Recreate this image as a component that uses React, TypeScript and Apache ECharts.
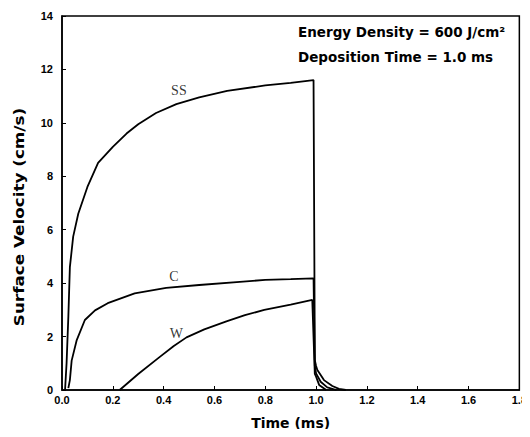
import React, { useEffect, useRef } from "react";
import * as echarts from "echarts";

// x-axis ticks (ms)
const xTicks = [0, 0.2, 0.4, 0.6, 0.8, 1.0, 1.2, 1.4, 1.6, 1.8];
const yTicks = [0, 2, 4, 6, 8, 10, 12, 14];

// SS curve
const ssTime = [0.012, 0.018, 0.025, 0.031, 0.044, 0.064, 0.1, 0.142, 0.2, 0.254, 0.3, 0.37, 0.45, 0.54, 0.65, 0.8, 0.9, 0.99, 0.995, 1.0, 1.005, 1.031, 1.064, 1.09, 1.117];
const ssVel = [0, 1.0, 2.75, 4.6, 5.74, 6.6, 7.6, 8.5, 9.1, 9.6, 9.95, 10.37, 10.7, 10.95, 11.2, 11.4, 11.5, 11.6, 1.12, 0.9, 0.75, 0.37, 0.15, 0.04, 0];

// C curve
const cTime = [0.025, 0.031, 0.038, 0.058, 0.09, 0.13, 0.18, 0.286, 0.41, 0.54, 0.7, 0.8, 0.9, 0.99, 0.995, 1.0, 1.018, 1.044, 1.08];
const cVel = [0.07, 0.37, 1.1, 1.87, 2.62, 2.98, 3.25, 3.62, 3.82, 3.93, 4.05, 4.12, 4.15, 4.18, 0.9, 0.62, 0.31, 0.1, 0];

// W curve
const wTime = [0.227, 0.3, 0.385, 0.44, 0.49, 0.56, 0.647, 0.72, 0.796, 0.9, 0.985, 0.995, 1.0, 1.012, 1.04];
const wVel = [0, 0.6, 1.24, 1.65, 1.97, 2.27, 2.57, 2.8, 3.0, 3.2, 3.37, 0.6, 0.5, 0.19, 0];

// curve labels
const labelNames = ["SS", "C", "W"];
const labelTime = [0.46, 0.44, 0.45];
const labelVel = [11.2, 4.25, 2.1];

const annotationLines = ["Energy Density = 600 J/cm²", "Deposition Time = 1.0 ms"];
const xTitle = "Time (ms)";
const yTitle = "Surface Velocity (cm/s)";

const zip = (t: number[], v: number[]) => t.map((x, i) => [x, v[i]]);

export default function App() {
  const ref = useRef<HTMLDivElement>(null);
  useEffect(() => {
    if (!ref.current) return;
    const chart = echarts.init(ref.current, null, { renderer: "svg" });
    const lineStyle = { color: "#000", width: 1.8 };
    const font = "'Liberation Sans', Arial, sans-serif";
    const wide = "'DejaVu Sans', sans-serif";
    chart.setOption({
      animation: false,
      backgroundColor: "#fff",
      grid: {
        left: 62,
        top: 16,
        width: 460,
        height: 374,
        show: true,
        borderColor: "#000",
        borderWidth: 1.5,
        backgroundColor: "transparent",
      },
      xAxis: {
        type: "value",
        min: 0,
        max: 1.8,
        interval: 0.2,
        name: xTitle,
        nameLocation: "middle",
        nameGap: 26,
        nameTextStyle: { fontFamily: wide, fontWeight: "bold", fontSize: 14, color: "#000" },
        axisLine: { lineStyle: { color: "#000", width: 1.5 } },
        axisTick: { inside: true, length: 4, lineStyle: { color: "#000" } },
        splitLine: { show: false },
        axisLabel: {
          margin: 4,
          fontFamily: font,
          fontWeight: "bold",
          fontSize: 11,
          color: "#000",
          formatter: (v: number) => (xTicks.includes(Math.round(v * 10) / 10) ? v.toFixed(1) : ""),
        },
      },
      yAxis: {
        type: "value",
        min: 0,
        max: 14,
        interval: 2,
        axisLine: { lineStyle: { color: "#000", width: 1.5 } },
        axisTick: { inside: true, length: 4, lineStyle: { color: "#000" } },
        splitLine: { show: false },
        axisLabel: {
          margin: 9,
          fontFamily: font,
          fontWeight: "bold",
          fontSize: 11,
          color: "#000",
          formatter: (v: number) => (yTicks.includes(v) ? String(v) : ""),
        },
      },
      series: [
        { name: "SS", type: "line", data: zip(ssTime, ssVel), showSymbol: false, lineStyle, itemStyle: { color: "#000" } },
        { name: "C", type: "line", data: zip(cTime, cVel), showSymbol: false, lineStyle, itemStyle: { color: "#000" } },
        { name: "W", type: "line", data: zip(wTime, wVel), showSymbol: false, lineStyle, itemStyle: { color: "#000" } },
        {
          name: "labels",
          type: "scatter",
          symbolSize: 0,
          data: labelNames.map((n, i) => ({ value: [labelTime[i], labelVel[i]], name: n })),
          label: {
            show: true,
            position: "inside",
            formatter: (p: any) => p.name,
            fontFamily: "'Liberation Serif', 'DejaVu Serif', serif",
            fontSize: 14,
            color: "#000",
          },
        },
      ],
      graphic: [
        ...annotationLines.map((t, i) => ({
          type: "text",
          left: 298,
          top: 25 + i * 25,
          style: {
            text: t,
            fontFamily: wide,
            fontWeight: "bold",
            fontSize: 13.5,
            fill: "#000",
          },
        })),
        {
          type: "text",
          x: 19,
          y: 217,
          rotation: Math.PI / 2,
          scaleX: 1.2,
          style: {
            text: yTitle,
            fontFamily: wide,
            fontWeight: "bold",
            fontSize: 14,
            fill: "#000",
            align: "center",
            verticalAlign: "middle",
          },
        },
      ],
    });
    return () => chart.dispose();
  }, []);
  return <div ref={ref} style={{ width: 530, height: 437, margin: -8 }} />;
}
